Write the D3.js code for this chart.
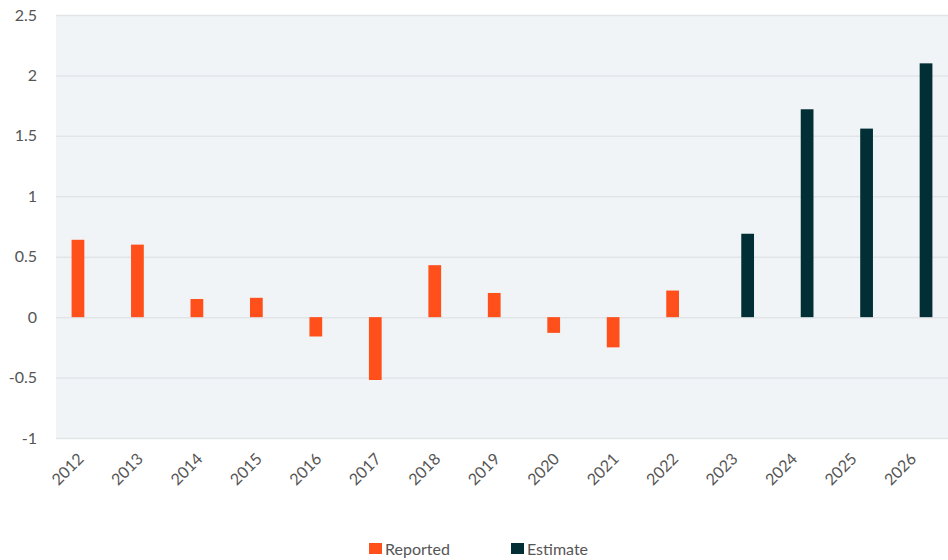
<!DOCTYPE html>
<html>
<head>
<meta charset="utf-8">
<script src="https://cdn.jsdelivr.net/npm/d3@7.9.0/dist/d3.min.js"></script>
<style>
  body { margin: 0; background: #fff; }
  svg text { font-family: Lato, "Open Sans", sans-serif; fill: #555; }
</style>
</head>
<body>
<svg width="948" height="560"></svg>
<script>
// years on the x axis
const years = ["2012","2013","2014","2015","2016","2017","2018","2019","2020","2021","2022","2023","2024","2025","2026"];
// reported values (null where there is none)
const reported = [0.64, 0.60, 0.15, 0.16, -0.16, -0.52, 0.43, 0.20, -0.13, -0.25, 0.22, null, null, null, null];
// estimates
const estimate = [null, null, null, null, null, null, null, null, null, null, null, 0.69, 1.72, 1.56, 2.10];
const yTicks = [-1, -0.5, 0, 0.5, 1, 1.5, 2, 2.5];
const seriesNames = ["Reported", "Estimate"];
const colors = ["#FF4F1A", "#022E36"];

let svg = d3.select("svg");
const plotLeft = 56, plotRight = 948, plotTop = 15, plotBottom = 438;

let x0 = d3.scaleBand().domain(years).range([plotLeft, plotRight]).paddingInner(0.43).paddingOuter(0.215);
let x1 = d3.scaleBand().domain(seriesNames).range([0, x0.bandwidth()]).padding(0.18);
let y = d3.scaleLinear().domain([-1, 2.5]).range([plotBottom, plotTop]);

// plot background
svg.append("rect")
  .attr("x", plotLeft).attr("y", plotTop)
  .attr("width", plotRight - plotLeft).attr("height", plotBottom - plotTop)
  .attr("fill", "#F1F4F6");

// gridlines + y labels (plain hyphen for negatives, like the original)
let yAxis = svg.append("g")
  .attr("transform", `translate(${plotLeft},0)`)
  .call(d3.axisLeft(y).tickValues(yTicks).tickSize(-(plotRight - plotLeft)).tickFormat(d => String(d)));
yAxis.select(".domain").remove();
yAxis.selectAll("line").attr("stroke", "#E1E5E8").attr("stroke-width", 1.5);
yAxis.selectAll("text")
  .attr("x", -19)
  .style("font-size", "16px")
  .style("fill", "#555");

// bars
let table = years.map((yr, i) => ({ year: yr, values: [reported[i], estimate[i]] }));
table.forEach(row => {
  row.values.forEach((v, j) => {
    if (v === null) return;
    svg.append("rect")
      .attr("x", x0(row.year) + x1(seriesNames[j]))
      .attr("width", x1.bandwidth())
      .attr("y", y(Math.max(0, v)))
      .attr("height", Math.abs(y(v) - y(0)))
      .attr("fill", colors[j]);
  });
});

// x labels, rotated
let xAxis = svg.append("g")
  .attr("transform", `translate(0,${plotBottom})`)
  .call(d3.axisBottom(x0).tickSize(0).tickPadding(0));
xAxis.select(".domain").remove();
xAxis.selectAll("text")
  .attr("text-anchor", "end")
  .attr("transform", "translate(-5,18) rotate(-45)")
  .attr("dy", "0.35em")
  .style("font-size", "16px")
  .style("fill", "#555");

// legend
let legendX = [369, 511];
seriesNames.forEach((name, i) => {
  let g = svg.append("g").attr("transform", `translate(${legendX[i]},543)`);
  g.append("rect").attr("width", 13).attr("height", 11).attr("fill", colors[i]);
  g.append("text").attr("x", 16).attr("y", 12).text(name).style("font-size", "16px");
});
</script>
</body>
</html>
